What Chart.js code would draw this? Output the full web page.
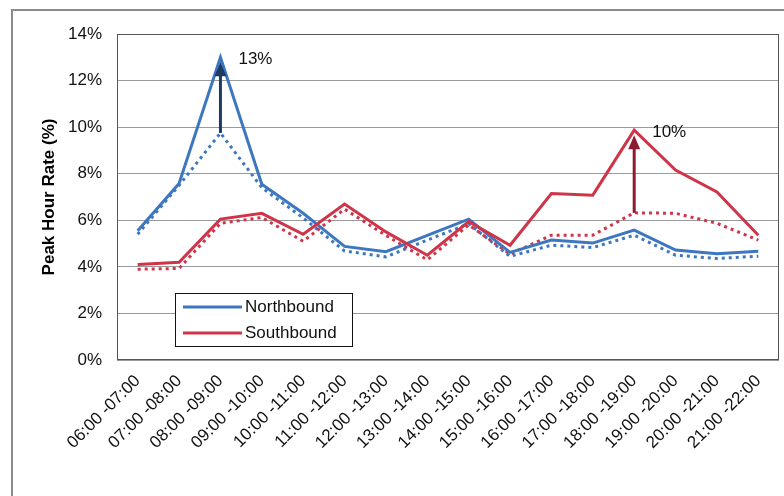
<!DOCTYPE html>
<html>
<head>
<meta charset="utf-8">
<title>Peak Hour Rate</title>
<script src="https://cdn.jsdelivr.net/npm/chart.js@4"></script>
<style>
  html, body { margin: 0; padding: 0; background: #fff; }
  canvas { display: block; }
</style>
</head>
<body>
<canvas id="peakChart" width="784" height="496"></canvas>
<script>
// -----------------------
// Data (percent of daily volume)
// -----------------------
const hours = [
  '06:00 -07:00', '07:00 -08:00', '08:00 -09:00', '09:00 -10:00',
  '10:00 -11:00', '11:00 -12:00', '12:00 -13:00', '13:00 -14:00',
  '14:00 -15:00', '15:00 -16:00', '16:00 -17:00', '17:00 -18:00',
  '18:00 -19:00', '19:00 -20:00', '20:00 -21:00', '21:00 -22:00'
];
const northbound    = [5.55, 7.58, 13.0, 7.55, 6.3, 4.88, 4.65, 5.35, 6.05, 4.62, 5.15, 5.02, 5.58, 4.72, 4.56, 4.67];
const northboundAvg = [5.4, 7.5, 9.75, 7.4, 6.1, 4.68, 4.43, 5.15, 5.85, 4.45, 4.93, 4.83, 5.36, 4.5, 4.36, 4.46];
const southbound    = [4.1, 4.2, 6.05, 6.3, 5.4, 6.7, 5.5, 4.5, 5.94, 4.93, 7.15, 7.08, 9.87, 8.16, 7.22, 5.36];
const southboundAvg = [3.9, 3.93, 5.87, 6.12, 5.1, 6.48, 5.35, 4.3, 5.8, 4.55, 5.36, 5.36, 6.32, 6.3, 5.87, 5.15];
const yTicks = [0, 2, 4, 6, 8, 10, 12, 14];

// peak arrows: index of the hour, series pair, label
const peaks = [
  { idx: 2,  top: northbound, base: northboundAvg, text: '13%', color: '#1f3a63' },
  { idx: 12, top: southbound, base: southboundAvg, text: '10%', color: '#8e1c30' }
];

const BLUE = '#3d77bf';
const RED = '#cf3449';
const FONT = "'Liberation Sans', Arial, sans-serif";

// -----------------------
// Frame, plot border, arrows, legend
// -----------------------
const decorPlugin = {
  id: 'decor',
  beforeDraw(chart) {
    const ctx = chart.ctx;
    ctx.save();
    ctx.fillStyle = '#fff';
    ctx.fillRect(0, 0, chart.width, chart.height);
    ctx.strokeStyle = '#8a8a8a';
    ctx.lineWidth = 2;
    ctx.strokeRect(12, 10, chart.width + 20, chart.height + 20);
    ctx.restore();
  },
  beforeDatasetsDraw(chart) {
    const { ctx, chartArea: a } = chart;
    ctx.save();
    ctx.strokeStyle = '#555';
    ctx.lineWidth = 1;
    ctx.strokeRect(a.left + 0.5, a.top + 0.5, a.right - a.left - 1, a.bottom - a.top - 1);
    ctx.restore();
  },
  afterDatasetsDraw(chart) {
    const { ctx, scales: { x, y } } = chart;
    ctx.save();
    peaks.forEach(p => {
      const px = x.getPixelForValue(p.idx);
      const yTop = y.getPixelForValue(p.top[p.idx]);
      const yBase = y.getPixelForValue(p.base[p.idx]);
      const tip = yTop + 5;
      ctx.strokeStyle = p.color;
      ctx.fillStyle = p.color;
      ctx.lineWidth = 3;
      ctx.beginPath();
      ctx.moveTo(px, yBase);
      ctx.lineTo(px, tip + 10);
      ctx.stroke();
      ctx.beginPath();
      ctx.moveTo(px, tip);
      ctx.lineTo(px - 6, tip + 14);
      ctx.lineTo(px + 6, tip + 14);
      ctx.closePath();
      ctx.fill();

      ctx.fillStyle = '#111';
      ctx.font = '17px ' + FONT;
      ctx.textAlign = 'left';
      ctx.textBaseline = 'middle';
      ctx.fillText(p.text, px + 18, yTop + 2);
    });

    // legend box
    const lx = 175, ly = 293, lw = 177, lh = 53;
    ctx.fillStyle = '#fff';
    ctx.fillRect(lx, ly, lw, lh);
    ctx.strokeStyle = '#111';
    ctx.lineWidth = 1;
    ctx.strokeRect(lx + 0.5, ly + 0.5, lw, lh);
    [['Northbound', BLUE, 307], ['Southbound', RED, 333]].forEach(([name, col, ry]) => {
      ctx.strokeStyle = col;
      ctx.lineWidth = 3;
      ctx.beginPath();
      ctx.moveTo(183, ry);
      ctx.lineTo(242, ry);
      ctx.stroke();
      ctx.fillStyle = '#111';
      ctx.font = '17px ' + FONT;
      ctx.textAlign = 'left';
      ctx.textBaseline = 'middle';
      ctx.fillText(name, 245, ry);
    });
    ctx.restore();
  }
};

function series(data, color, dotted) {
  return {
    data,
    borderColor: color,
    borderWidth: 3,
    borderDash: dotted ? [3, 4] : [],
    pointRadius: 0,
    tension: 0,
    fill: false
  };
}

new Chart(document.getElementById('peakChart'), {
  type: 'line',
  data: {
    labels: hours,
    datasets: [
      series(southbound, RED, false),
      series(northbound, BLUE, false),
      series(southboundAvg, RED, true),
      series(northboundAvg, BLUE, true)
    ]
  },
  options: {
    responsive: false,
    animation: false,
    layout: { padding: { left: 39, top: 34, right: 5, bottom: 0 } },
    plugins: { legend: { display: false }, tooltip: { enabled: false } },
    scales: {
      x: {
        offset: true,
        grid: { display: false, drawTicks: false },
        border: { display: false },
        ticks: {
          minRotation: 45, maxRotation: 45, autoSkip: false,
          color: '#111', padding: 11,
          font: { family: FONT, size: 17 }
        },
        afterFit(s) { s.height = 136; }
      },
      y: {
        min: 0, max: 14,
        afterBuildTicks(s) { s.ticks = yTicks.map(v => ({ value: v })); },
        grid: { color: '#9a9a9a', drawTicks: false },
        border: { display: false },
        ticks: {
          color: '#111', padding: 15,
          font: { family: FONT, size: 17 },
          callback: v => v + '%'
        },
        title: {
          display: true, text: 'Peak Hour Rate (%)', color: '#000', padding: 0,
          font: { family: FONT, size: 17, weight: 'bold' }
        },
        afterFit(s) { s.width = 78; }
      }
    }
  },
  plugins: [decorPlugin]
});
</script>
</body>
</html>
